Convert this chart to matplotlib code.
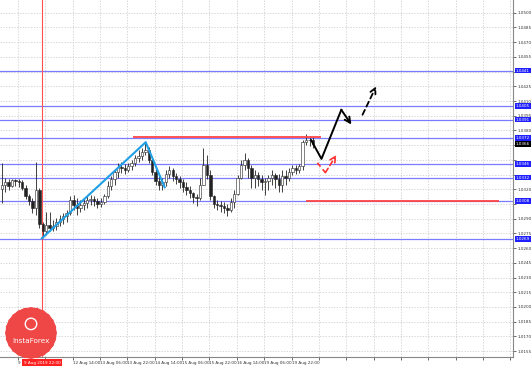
import numpy as np
import matplotlib.pyplot as plt
import matplotlib.patches as mpatches
import matplotlib.transforms as mtransforms

# 2-hour bars (price)
close_ = [1.0324, 1.0327, 1.0323, 1.0329, 1.0328, 1.0327, 1.0321, 1.0313, 1.0308, 1.0301,
          1.0319, 1.0285, 1.0277, 1.0284, 1.0281, 1.0283, 1.0287, 1.0290, 1.0293, 1.0296,
          1.0309, 1.0304, 1.0301, 1.0304, 1.0306, 1.0309, 1.0310, 1.0308, 1.0305, 1.0307,
          1.0313, 1.0323, 1.0330, 1.0338, 1.0343, 1.0342, 1.0340, 1.0344, 1.0347, 1.0352,
          1.0354, 1.0358, 1.0360, 1.0350, 1.0338, 1.0328, 1.0324, 1.0327, 1.0336, 1.0340,
          1.0334, 1.0330, 1.0327, 1.0322, 1.0319, 1.0316, 1.0312, 1.0311, 1.0324, 1.0345,
          1.0335, 1.0313, 1.0305, 1.0304, 1.0303, 1.0301, 1.0299, 1.0307, 1.0315, 1.0332,
          1.0345, 1.0350, 1.0342, 1.0332, 1.0335, 1.0330, 1.0327, 1.0328, 1.0332, 1.0335,
          1.0330, 1.0324, 1.0334, 1.0332, 1.0338, 1.0342, 1.0340, 1.0344, 1.0368, 1.0370,
          1.0370, 1.0366]
high_ = [1.0347, 1.0332, 1.0330, 1.0331, 1.0331, 1.0330, 1.0329, 1.0324, 1.0315, 1.0311,
         1.0348, 1.0321, 1.0287, 1.0297, 1.0297, 1.0289, 1.0291, 1.0294, 1.0296, 1.0299,
         1.0313, 1.0314, 1.0311, 1.0309, 1.0311, 1.0313, 1.0314, 1.0313, 1.0311, 1.0311,
         1.0315, 1.0328, 1.0334, 1.0340, 1.0347, 1.0348, 1.0346, 1.0347, 1.0350, 1.0355,
         1.0360, 1.0362, 1.0368, 1.0363, 1.0352, 1.0342, 1.0335, 1.0332, 1.0340, 1.0344,
         1.0342, 1.0337, 1.0334, 1.0330, 1.0327, 1.0323, 1.0317, 1.0315, 1.0332, 1.0362,
         1.0355, 1.0340, 1.0314, 1.0309, 1.0308, 1.0307, 1.0305, 1.0311, 1.0319, 1.0335,
         1.0350, 1.0357, 1.0352, 1.0345, 1.0340, 1.0338, 1.0335, 1.0332, 1.0335, 1.0340,
         1.0337, 1.0336, 1.0340, 1.0340, 1.0342, 1.0345, 1.0345, 1.0346, 1.0370, 1.0376,
         1.0374, 1.0373]
low_ = [1.0306, 1.0317, 1.0319, 1.0322, 1.0323, 1.0322, 1.0319, 1.0310, 1.0304, 1.0296,
        1.0294, 1.0281, 1.0270, 1.0273, 1.0277, 1.0277, 1.0279, 1.0283, 1.0285, 1.0287,
        1.0294, 1.0299, 1.0294, 1.0297, 1.0299, 1.0301, 1.0304, 1.0303, 1.0301, 1.0302,
        1.0305, 1.0311, 1.0319, 1.0324, 1.0332, 1.0337, 1.0336, 1.0338, 1.0340, 1.0344,
        1.0348, 1.0350, 1.0355, 1.0347, 1.0335, 1.0324, 1.0319, 1.0319, 1.0323, 1.0332,
        1.0328, 1.0325, 1.0321, 1.0317, 1.0314, 1.0311, 1.0306, 1.0303, 1.0309, 1.0324,
        1.0330, 1.0309, 1.0301, 1.0299, 1.0297, 1.0296, 1.0293, 1.0297, 1.0301, 1.0314,
        1.0330, 1.0340, 1.0332, 1.0321, 1.0321, 1.0323, 1.0319, 1.0314, 1.0319, 1.0324,
        1.0321, 1.0317, 1.0317, 1.0324, 1.0328, 1.0335, 1.0336, 1.0337, 1.0340, 1.0365,
        1.0364, 1.0362]
first_open = 1.0320

price_ticks = ["1.0155", "1.0170", "1.0185", "1.0200", "1.0215", "1.0230", "1.0245", "1.0260",
               "1.0275", "1.0290", "1.0305", "1.0320", "1.0335", "1.0350", "1.0365", "1.0380",
               "1.0395", "1.0410", "1.0425", "1.0440", "1.0455", "1.0470", "1.0485", "1.0500"]
time_labels = ["8 Aug 14:00", "9 Aug 06:00", "9 Aug 22:00", "12 Aug 14:00", "13 Aug 06:00",
               "13 Aug 22:00", "14 Aug 14:00", "15 Aug 06:00", "15 Aug 22:00", "16 Aug 14:00",
               "19 Aug 06:00", "19 Aug 22:00"]
cross_label = "9 Aug 2019 22:00"
cross_hour = 24.5

blue_levels = [1.0441, 1.0405, 1.0391, 1.0372, 1.0346, 1.0332, 1.0308, 1.0269]
res_level, res_span = 1.0373, (77.6, 188.0)
sup_level, sup_span = 1.0308, (179.0, 292.0)

trend_x = [24.5, 85.2, 96.3]
trend_y = [1.0270, 1.0368, 1.0322]
fc_x = [182.0, 188.0, 199.6, 205.5]
fc_y = [1.0370, 1.0351, 1.0401, 1.0386]
fc2_x = [212.0, 220.0]
fc2_y = [1.0396, 1.0425]
alt_x = [185.6, 190.3, 196.7]
alt_y = [1.0347, 1.0337, 1.0355]

FS = 3.0

fig = plt.figure(figsize=(5.32, 3.66), dpi=100)
ax = fig.add_axes([0, 9 / 366, 513 / 532, 357 / 366])
ax.set_xlim(0, 300)
ax.set_ylim(1.0149, 1.0513)

# grid and ticks
yt = [float(t) for t in price_ticks]
boxed = blue_levels + [close_[-1]]
ax.set_yticks(yt)
ax.set_yticklabels([t if min(abs(float(t) - b) for b in boxed) > 0.0004 else "" for t in price_ticks])
xt = -5.5 + 16 * np.arange(20)
ax.set_xticks(xt[1:])
ax.set_xticklabels([time_labels[1], ""] + time_labels[3:] + [""] * (len(xt) - len(time_labels)))
for lab in ax.get_xticklabels():
    lab.set_ha("left")
trx = mtransforms.blended_transform_factory(ax.transData, ax.transAxes)
ax.text(-1.5, -0.012, time_labels[0][2:], transform=trx, ha="right", va="top",
        fontsize=FS, color="#333333", clip_on=False)
ax.grid(color="#c8c8c8", linestyle=(0, (2, 2)), linewidth=0.5)
ax.set_axisbelow(True)
ax.yaxis.tick_right()
ax.tick_params(axis="both", labelsize=FS, colors="#333333", length=2, width=0.5, pad=1.2)
for s in ["top", "left"]:
    ax.spines[s].set_visible(False)
for s in ["right", "bottom"]:
    ax.spines[s].set_color("#888888")
    ax.spines[s].set_linewidth(0.8)

# levels
for lv in blue_levels:
    ax.axhline(lv, color="#7b7bff", linewidth=0.9, zorder=2)
ax.axvline(cross_hour, color="#ff5050", linewidth=0.8, zorder=2)

# candles
opens = [first_open] + close_[:-1]
xs = 2 * np.arange(len(close_)) + 1
for x, o, h, l, c in zip(xs, opens, high_, low_, close_):
    ax.vlines(x, l, h, color="#222222", linewidth=0.6, zorder=3)
    bull = c >= o
    ax.add_patch(mpatches.Rectangle((x - 0.7, min(o, c)), 1.4, max(abs(c - o), 0.00003),
                                    facecolor="white" if bull else "#222222",
                                    edgecolor="#222222", linewidth=0.4, zorder=4))

ax.plot(trend_x, trend_y, color="#1e9fe6", linewidth=1.5, zorder=5)
ax.hlines(res_level, *res_span, color="#ff4444", linewidth=1.3, zorder=5)
ax.hlines(sup_level, *sup_span, color="#ff4444", linewidth=1.3, zorder=5)

# forecast arrows
ax.plot(fc_x[:-1], fc_y[:-1], color="black", linewidth=1.4, zorder=6)
ax.annotate("", xy=(fc_x[-1], fc_y[-1]), xytext=(fc_x[-2], fc_y[-2]),
            arrowprops=dict(arrowstyle="->", color="black", lw=1.4, shrinkA=0, shrinkB=0), zorder=6)
ax.annotate("", xy=(fc2_x[1], fc2_y[1]), xytext=(fc2_x[0], fc2_y[0]),
            arrowprops=dict(arrowstyle="->", color="black", lw=1.3, linestyle=(0, (3, 2)),
                            shrinkA=0, shrinkB=0), zorder=6)
ax.plot(alt_x[:-1], alt_y[:-1], color="#ff3030", linewidth=1.2, linestyle=(0, (3, 2)), zorder=6)
ax.annotate("", xy=(alt_x[-1], alt_y[-1]), xytext=(alt_x[-2], alt_y[-2]),
            arrowprops=dict(arrowstyle="->", color="#ff3030", lw=1.2, linestyle=(0, (3, 2)),
                            shrinkA=0, shrinkB=0), zorder=6)

# price boxes on the right axis
tr = mtransforms.blended_transform_factory(ax.transAxes, ax.transData)
for lv in blue_levels:
    ax.text(1.006, lv, f"{lv:.4f}", transform=tr, ha="left", va="center", fontsize=FS,
            color="white", clip_on=False, zorder=10,
            bbox=dict(boxstyle="square,pad=0.2", facecolor="#2020ff", edgecolor="none"))
ax.text(1.006, close_[-1], f"{close_[-1]:.4f}", transform=tr, ha="left", va="center", fontsize=FS,
        color="white", clip_on=False, zorder=10,
        bbox=dict(boxstyle="square,pad=0.2", facecolor="black", edgecolor="none"))

# crosshair date label
ax.text(cross_hour, -0.01, cross_label, transform=trx, ha="center", va="top", fontsize=FS,
        color="white", clip_on=False, zorder=10,
        bbox=dict(boxstyle="square,pad=0.3", facecolor="#ff2020", edgecolor="none"))

# logo
lax = fig.add_axes([5 / 532, (366 - 359) / 366, 52 / 532, 52 / 366])
lax.set_xlim(-1, 1)
lax.set_ylim(-1, 1)
lax.set_aspect("equal")
lax.axis("off")
for rot in [0, np.pi / 12]:
    lax.add_patch(mpatches.RegularPolygon((0, 0), 12, radius=1.0, orientation=rot,
                                          facecolor="#ef4646", edgecolor="none"))
lax.add_patch(mpatches.Circle((0, 0.35), 0.22, facecolor="none", edgecolor="white", linewidth=1.0))
lax.text(0, -0.3, "InstaForex", color="white", fontsize=5.2, ha="center", va="center")

fig.savefig("out.png", dpi=100)
